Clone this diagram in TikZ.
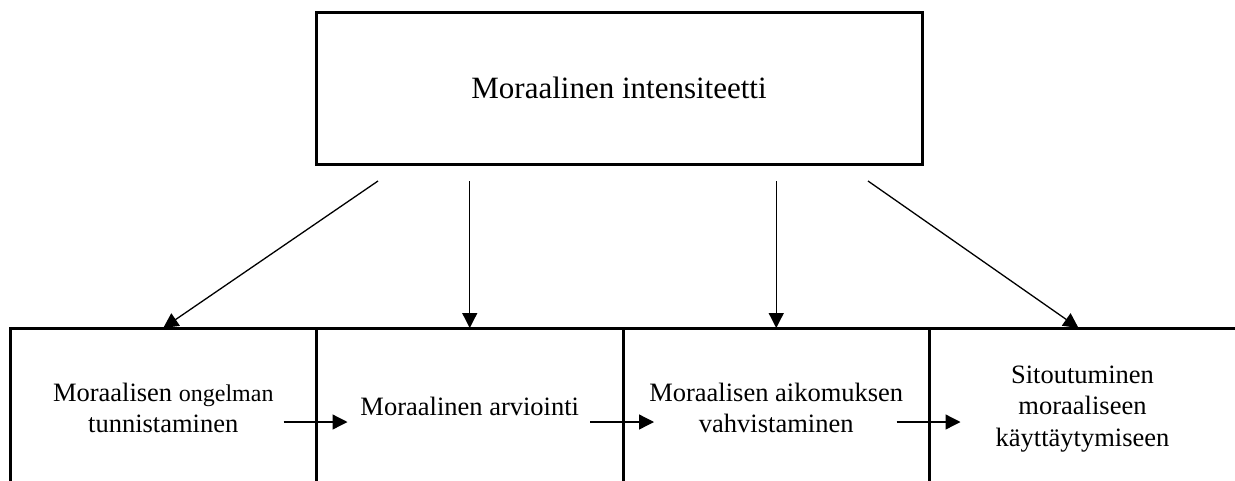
\documentclass[tikz,border=0pt]{standalone}
\usepackage{fontspec}
\setmainfont{Liberation Serif}
\usetikzlibrary{arrows.meta,positioning}

\begin{document}
\begin{tikzpicture}[x=1pt,y=-1pt,>={Triangle[length=15pt,width=15pt]},
                    every node/.style={outer sep=0pt,inner sep=0pt}]

  \tikzstyle{stage}=[draw,line width=3pt,minimum width=306.5pt,
                     minimum height=260pt]
  \tikzstyle{stagetext}=[align=center,font=\fontsize{26.5}{31.5}\selectfont]
  \tikzstyle{flow}=[->,line width=1.3pt]

  \useasboundingbox (0,0) rectangle (1235,480);
  \clip (0,0) rectangle (1235,480);

  \node[draw,line width=3pt,minimum width=606pt,minimum height=152pt,
        font=\fontsize{31}{36}\selectfont] (MI) at (619,88)
        {Moraalinen intensiteetti};

  \node[stage,anchor=north west] (B1) at (10,328) {};
  \node[stage] (B2) [right=0pt of B1] {};
  \node[stage] (B3) [right=0pt of B2] {};
  \node[stage,minimum width=320pt] (B4) [right=0pt of B3] {};

  \node[stagetext] (T1) at ([yshift=-80pt]B1.north)
       {Moraalisen {\fontsize{24}{31.5}\selectfont ongelman}\\tunnistaminen};
  \node[stagetext] (T2) at ([yshift=-78pt]B2.north) {Moraalinen arviointi};
  \node[stagetext] (T3) at ([yshift=-80pt]B3.north)
       {Moraalisen aikomuksen\\vahvistaminen};
  \node[stagetext] (T4) at ([xshift=153pt,yshift=-81pt]B4.north west)
       {Sitoutuminen\\moraaliseen\\käyttäytymiseen};

  % vaikutukset ylhäältä
  \draw[flow] ([xshift=62pt,yshift=-17pt]MI.south west) -- (B1.north);
  \draw[flow,shorten <=17pt] (B2.north |- MI.south) -- (B2.north);
  \draw[flow,shorten <=17pt] (B3.north |- MI.south) -- (B3.north);
  \draw[flow] ([xshift=-54pt,yshift=-17pt]MI.south east)
              -- ([xshift=149pt]B4.north west);

  % vaiheet
  \draw[flow] ([xshift=-33pt,yshift=-94pt]B1.north east)
              -- ([xshift=31pt,yshift=-94pt]B2.north west);
  \draw[flow] ([xshift=-33pt,yshift=-94pt]B2.north east)
              -- ([xshift=31pt,yshift=-94pt]B3.north west);
  \draw[flow] ([xshift=-33pt,yshift=-94pt]B3.north east)
              -- ([xshift=31pt,yshift=-94pt]B4.north west);

\end{tikzpicture}
\end{document}
